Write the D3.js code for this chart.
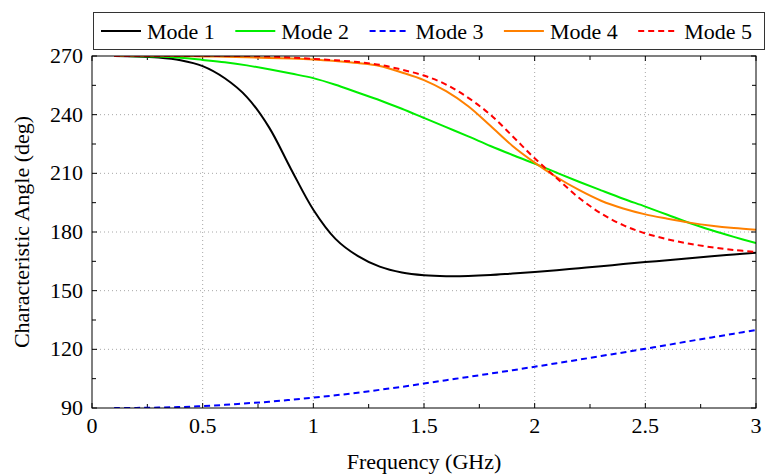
<!DOCTYPE html>
<html><head><meta charset="utf-8"><script src="https://cdn.jsdelivr.net/npm/d3@7"></script>
<style>
  @font-face { font-family: "ChartSerif"; src: local("Liberation Serif"), local("LiberationSerif"); }
</style>
</head>
<body><script>
var width = 766,
    height = 476;

var margin = {top: 56, right: 10, bottom: 68, left: 92};
var plotW = width - margin.left - margin.right,
    plotH = height - margin.top - margin.bottom;
var fontFamily = '"Liberation Serif", "ChartSerif", "Tinos", "Times New Roman", serif';

// frequency samples (GHz)
var freqs = [0.1, 0.2, 0.3, 0.4, 0.5, 0.6, 0.7, 0.8, 0.9, 1.0,
             1.1, 1.2, 1.3, 1.4, 1.5, 1.6, 1.7, 1.8, 1.9, 2.0,
             2.1, 2.2, 2.3, 2.4, 2.5, 2.6, 2.7, 2.8, 2.9, 3.0];

var mode1 = [270, 269.8, 269.2, 267.8, 264.8, 258.6, 249, 233.5, 212, 191.4,
             176.5, 167.8, 162.3, 159.3, 157.9, 157.4, 157.5, 158, 158.8, 159.6,
             160.5, 161.5, 162.5, 163.6, 164.6, 165.6, 166.6, 167.6, 168.5, 169.4];
var mode2 = [270, 269.9, 269.7, 269.1, 268, 266.8, 265.2, 263.2, 261, 258.7,
             255.3, 251.3, 247.4, 243, 238.3, 233.6, 228.9, 224, 219.4, 215,
             210.3, 205.7, 201.3, 197, 193, 188.8, 184.6, 180.9, 177.5, 174.3];
var mode3 = [90, 90.05, 90.2, 90.5, 91, 91.6, 92.4, 93.2, 94.2, 95.3,
             96.5, 97.8, 99.3, 100.8, 102.5, 104.2, 105.9, 107.6, 109.3, 111.1,
             112.9, 114.7, 116.6, 118.4, 120.3, 122.2, 124.2, 126.1, 128, 129.9];
var mode4 = [270, 270, 270, 270, 269.8, 269.6, 269.3, 269, 268.7, 268.2,
             267.4, 266.4, 264.9, 261.6, 257.7, 252, 244.3, 234.3, 224, 215.5,
             208, 201.5, 196, 192, 189, 186.8, 184.8, 183.2, 182, 181.1];
var mode5 = [270, 270, 270, 270, 270, 270, 270, 269.7, 269.2, 268.5,
             267.8, 266.9, 265.5, 263, 260, 255.4, 248.6, 240, 229, 217.7,
             207.5, 197.5, 189.5, 183.5, 179.3, 176.3, 174, 172.2, 170.8, 169.8];

var seriesNames = ['Mode 1', 'Mode 2', 'Mode 3', 'Mode 4', 'Mode 5'];
var seriesColors = ['#000000', '#00ee00', '#0000ff', '#ff8000', '#ff0000'];
var seriesDash = [null, null, '6,4', null, '6,4'];
var seriesValues = [mode1, mode2, mode3, mode4, mode5];

var xTicks = [0, 0.5, 1, 1.5, 2, 2.5, 3];
var yTicks = [90, 120, 150, 180, 210, 240, 270];

var svg = d3.select('body').append('svg')
    .attr('width', width)
    .attr('height', height)
    .style('position', 'absolute')
    .style('left', '0px')
    .style('top', '0px');

var x = d3.scaleLinear().domain([0, 3]).range([0, plotW]);
var y = d3.scaleLinear().domain([90, 270]).range([plotH, 0]);

var g = svg.append('g')
    .attr('transform', 'translate(' + margin.left + ',' + margin.top + ')');

// serif text everywhere
function serif(sel) {
    return sel.style('font-family', fontFamily, 'important')
        .style('font-size', '22px', 'important')
        .style('fill', '#000');
}

// grid
g.append('g').selectAll('line.vg')
    .data(xTicks.slice(1, -1))
    .enter().append('line')
    .attr('x1', d => x(d)).attr('x2', d => x(d))
    .attr('y1', 0).attr('y2', plotH)
    .attr('stroke', '#a8a8a8').attr('stroke-width', 1)
    .attr('stroke-dasharray', '1,3');
g.append('g').selectAll('line.hg')
    .data(yTicks.slice(1, -1))
    .enter().append('line')
    .attr('x1', 0).attr('x2', plotW)
    .attr('y1', d => y(d)).attr('y2', d => y(d))
    .attr('stroke', '#a8a8a8').attr('stroke-width', 1)
    .attr('stroke-dasharray', '1,3');

// ticks on all four sides, pointing inward
var xMinor = d3.range(0, 3.001, 0.25);
var yMinor = d3.range(90, 270.001, 15);
var ticks = g.append('g').attr('stroke', '#000').attr('stroke-width', 1);
xMinor.forEach(function (d) {
    var len = xTicks.indexOf(d) >= 0 ? 5 : 4;
    ticks.append('line').attr('x1', x(d)).attr('x2', x(d)).attr('y1', plotH).attr('y2', plotH - len);
    ticks.append('line').attr('x1', x(d)).attr('x2', x(d)).attr('y1', 0).attr('y2', len);
});
yMinor.forEach(function (d) {
    var len = yTicks.indexOf(d) >= 0 ? 5 : 4;
    ticks.append('line').attr('x1', 0).attr('x2', len).attr('y1', y(d)).attr('y2', y(d));
    ticks.append('line').attr('x1', plotW).attr('x2', plotW - len).attr('y1', y(d)).attr('y2', y(d));
});

// tick labels
g.append('g').selectAll('text')
    .data(xTicks)
    .enter().append('text')
    .attr('x', d => x(d))
    .attr('y', plotH + 25)
    .attr('text-anchor', 'middle')
    .call(serif)
    .text(d => d);
g.append('g').selectAll('text')
    .data(yTicks)
    .enter().append('text')
    .attr('x', -9)
    .attr('y', d => y(d) + 7)
    .attr('text-anchor', 'end')
    .call(serif)
    .text(d => d);

// axis titles
g.append('text')
    .attr('x', plotW / 2)
    .attr('y', plotH + 61)
    .attr('text-anchor', 'middle')
    .call(serif)
    .text('Frequency (GHz)');
svg.append('text')
    .attr('transform', 'translate(29,' + (margin.top + plotH / 2) + ') rotate(-90)')
    .attr('text-anchor', 'middle')
    .call(serif)
    .text('Characteristic Angle (deg)');

// curves
g.append('clipPath').attr('id', 'clip')
    .append('rect').attr('width', plotW).attr('height', plotH);

var line = d3.line()
    .x(d => x(d[0]))
    .y(d => y(d[1]))
    .curve(d3.curveCatmullRom.alpha(0.5));

var lines = g.append('g').attr('clip-path', 'url(#clip)');
seriesValues.forEach(function (vals, i) {
    lines.append('path')
        .datum(freqs.map((f, j) => [f, vals[j]]))
        .attr('d', line)
        .attr('fill', 'none')
        .attr('stroke', seriesColors[i])
        .attr('stroke-width', 2)
        .attr('stroke-dasharray', seriesDash[i]);
});

// frame
g.append('rect')
    .attr('width', plotW).attr('height', plotH)
    .attr('fill', 'none').attr('stroke', '#000').attr('stroke-width', 1);

// legend
var legend = svg.append('g');
legend.append('rect')
    .attr('x', 93.5).attr('y', 12.5)
    .attr('width', 671).attr('height', 37)
    .attr('fill', '#fff').attr('stroke', '#333').attr('stroke-width', 1);
seriesNames.forEach(function (name, i) {
    var lx = 101 + i * 134.3;
    legend.append('line')
        .attr('x1', lx).attr('x2', lx + 40)
        .attr('y1', 31).attr('y2', 31)
        .attr('stroke', seriesColors[i])
        .attr('stroke-width', 2)
        .attr('stroke-dasharray', seriesDash[i]);
    legend.append('text')
        .attr('x', lx + 46)
        .attr('y', 38.5)
        .call(serif)
        .text(name);
});
</script></body></html>
